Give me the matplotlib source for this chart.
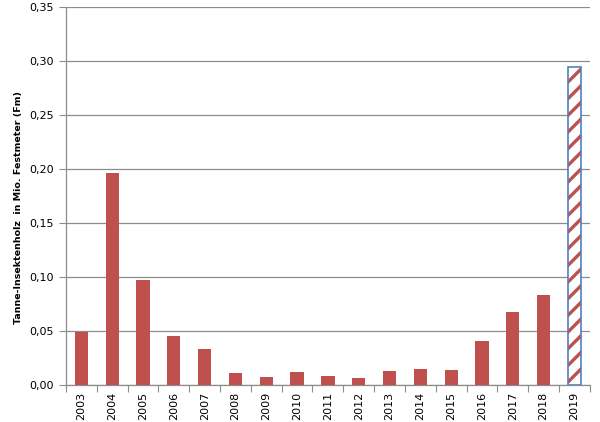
import matplotlib.pyplot as plt
from matplotlib.ticker import FuncFormatter, MultipleLocator

years = [str(y) for y in range(2003, 2020)]
values = [0.049, 0.196, 0.097, 0.045, 0.033, 0.011, 0.007, 0.012, 0.008,
          0.0065, 0.013, 0.015, 0.014, 0.041, 0.068, 0.083, 0.295]

red = '#c0504d'
blue = '#4f81bd'
grid = '#8c8c8c'

plt.rcParams['hatch.linewidth'] = 2.4

fig = plt.figure(figsize=(6, 4.22), dpi=100)
ax = fig.add_axes([0.11, 0.0877, 0.873, 0.8953])

x = list(range(len(years)))
ax.bar(x[:-1], values[:-1], width=0.43, color=red, zorder=3)
# last year: hatched bar with blue outline
ax.bar(x[-1], values[-1], width=0.43, facecolor='white', edgecolor=red,
       hatch='//', linewidth=0, zorder=3)
ax.bar(x[-1], values[-1], width=0.43, fill=False, edgecolor=blue,
       linewidth=1.2, zorder=4)

ax.set_xlim(-0.5, len(years) - 0.5)
ax.set_ylim(0, 0.35)
ax.yaxis.set_major_locator(MultipleLocator(0.05))
ax.yaxis.set_major_formatter(FuncFormatter(lambda v, p: f'{v:.2f}'.replace('.', ',')))
ax.grid(axis='y', color=grid, linewidth=0.9, zorder=0)

ax.set_xticks([i - 0.5 for i in range(len(years) + 1)], minor=False)
ax.set_xticklabels([])
ax.set_xticks(x, minor=True)
ax.set_xticklabels(years, minor=True, rotation=90, fontsize=8)
ax.tick_params(axis='x', which='minor', length=0, pad=5)
ax.tick_params(axis='x', which='major', length=5, color=grid, direction='out')
ax.tick_params(axis='y', length=5, color=grid, labelsize=8, pad=4)

for s in ['top', 'right']:
    ax.spines[s].set_visible(False)
for s in ['left', 'bottom']:
    ax.spines[s].set_color(grid)
    ax.spines[s].set_linewidth(0.9)

ax.set_ylabel('Tanne-Insektenholz  in Mio. Festmeter (Fm)', fontsize=6.8,
              fontweight='bold', labelpad=4)
ax.yaxis.label.set_y(0.47)

fig.savefig('out.png', dpi=100)
